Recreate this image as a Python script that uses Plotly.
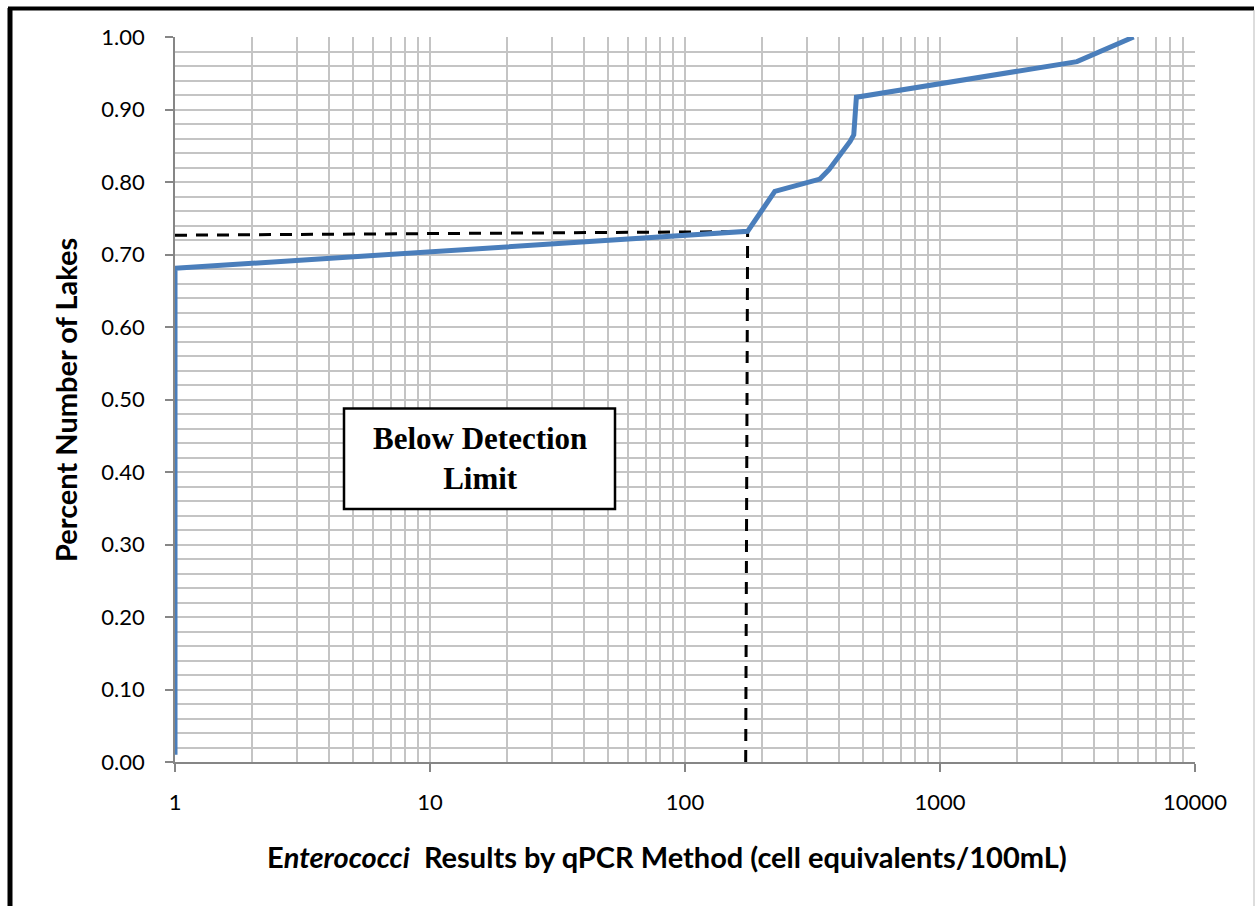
import plotly.graph_objects as go

# ---- data ----
x_vals = [1, 1, 176, 225, 338, 367, 444, 459, 470, 3445, 5745]
y_vals = [0.01, 0.681, 0.732, 0.787, 0.804, 0.817, 0.856, 0.865, 0.917, 0.966, 1.00]

limit_h_x = [1, 176]
limit_h_y = [0.7266, 0.7316]
limit_v_x = [173, 176]
limit_v_y = [0.0, 0.7316]

x_major = [1, 10, 100, 1000, 10000]
x_major_text = ["1", "10", "100", "1000", "10000"]
x_minor = [m * d for d in [1, 10, 100, 1000] for m in range(2, 10)]
y_major = [round(0.1 * i, 2) for i in range(11)]
y_major_text = [f"{v:.2f}" for v in y_major]

W, H = 1255, 906
L, R, T, B = 175, 60, 37, 144
PW, PH = W - L - R, H - T - B


def px_x(px):
    return (px - L) / PW


def px_y(py):
    return (H - B - py) / PH


fig = go.Figure()

fig.add_trace(go.Scatter(x=limit_h_x, y=limit_h_y, mode="lines",
                         line=dict(color="black", width=3, dash="12px,9px"),
                         showlegend=False, hoverinfo="skip"))
fig.add_trace(go.Scatter(x=limit_v_x, y=limit_v_y, mode="lines",
                         line=dict(color="black", width=3, dash="12px,9px"),
                         showlegend=False, hoverinfo="skip"))
fig.add_trace(go.Scatter(x=x_vals, y=y_vals, mode="lines",
                         line=dict(color="#4A7EBB", width=5),
                         showlegend=False))

grid_c = "#c4c4c4"
axis_c = "#868686"
tick_font = dict(family="Lato", size=22, color="black")

fig.update_xaxes(type="log", range=[0, 4],
                 tickmode="array", tickvals=x_major, ticktext=x_major_text,
                 ticks="outside", ticklen=8, tickwidth=1.5, tickcolor=axis_c,
                 showgrid=True, gridcolor=grid_c, gridwidth=2,
                 showline=True, linecolor=axis_c, linewidth=1.5,
                 tickfont=tick_font, ticklabelstandoff=12,
                 minor=dict(tickmode="array", tickvals=x_minor, showgrid=True,
                            gridcolor=grid_c, gridwidth=2, ticks=""),
                 zeroline=False)
fig.update_yaxes(range=[0, 1.0],
                 tickmode="array", tickvals=y_major, ticktext=y_major_text,
                 ticks="outside", ticklen=8, tickwidth=1.5, tickcolor=axis_c,
                 showgrid=True, gridcolor=grid_c, gridwidth=2,
                 showline=True, linecolor=axis_c, linewidth=1.5,
                 tickfont=tick_font, ticklabelstandoff=16,
                 minor=dict(dtick=0.02, showgrid=True, gridcolor=grid_c,
                            gridwidth=2, ticks=""),
                 zeroline=False)

shapes = [
    # outer frame
    dict(type="line", xref="paper", yref="paper", x0=px_x(8), x1=px_x(1254),
         y0=px_y(8.5), y1=px_y(8.5), line=dict(color="black", width=4)),
    dict(type="line", xref="paper", yref="paper", x0=px_x(10), x1=px_x(10),
         y0=px_y(8), y1=px_y(910), line=dict(color="black", width=5)),
    dict(type="line", xref="paper", yref="paper", x0=px_x(1254), x1=px_x(1254),
         y0=px_y(10), y1=px_y(910), line=dict(color="#bbbbbb", width=1)),
    # label box
    dict(type="rect", xref="paper", yref="paper", x0=px_x(344), x1=px_x(615),
         y0=px_y(509), y1=px_y(408.5), line=dict(color="black", width=2.5),
         fillcolor="white", layer="above"),
]

annotations = [
    dict(text="<b>Below Detection<br>Limit</b>", xref="paper", yref="paper",
         x=px_x(479.5), y=px_y(459), showarrow=False,
         font=dict(family="Liberation Serif", size=31, color="black"),
         xanchor="center", yanchor="middle", align="center"),
    dict(text="<b>E<i>nterococci</i>  Results by qPCR Method (cell equivalents/100mL)</b>",
         xref="paper", yref="paper", x=px_x(667), y=px_y(856), showarrow=False,
         font=dict(family="Lato", size=29, color="black"),
         xanchor="center", yanchor="middle"),
    dict(text="<b>Percent Number of Lakes</b>", xref="paper", yref="paper",
         x=px_x(65), y=px_y(400), showarrow=False, textangle=-90,
         font=dict(family="Lato", size=29, color="black"),
         xanchor="center", yanchor="middle"),
]

fig.update_layout(width=W, height=H,
                  margin=dict(l=L, r=R, t=T, b=B, pad=0),
                  plot_bgcolor="white", paper_bgcolor="white",
                  shapes=shapes, annotations=annotations,
                  showlegend=False)

fig.write_html("out.html")
